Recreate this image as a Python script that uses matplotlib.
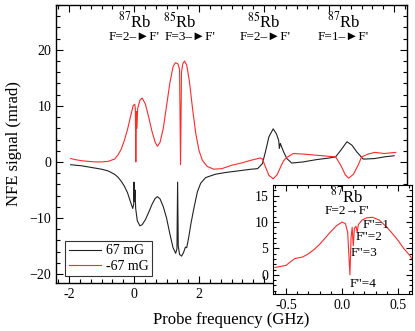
import matplotlib
matplotlib.use("Agg")
import matplotlib.pyplot as plt
from matplotlib.ticker import MultipleLocator, FixedLocator, FuncFormatter

plt.rcParams['font.family'] = ['Liberation Serif', 'DejaVu Serif']
plt.rcParams['mathtext.fontset'] = 'stix'

# ---- data ----
red_x = [-1.95, -1.8, -1.6, -1.4, -1.2, -1.0, -0.8, -0.6, -0.5, -0.4, -0.3, -0.2, -0.1, -0.03,
         0.02, 0.04, 0.055, 0.07, 0.09, 0.11, 0.18, 0.25, 0.35, 0.45, 0.55, 0.65, 0.72, 0.8, 0.9,
         1.0, 1.1, 1.2, 1.27, 1.35, 1.40, 1.43, 1.46, 1.50, 1.55, 1.62, 1.7, 1.8, 1.9, 2.0, 2.1,
         2.25, 2.45, 2.7, 3.0, 3.3, 3.6, 3.88, 3.95, 4.05, 4.15, 4.28, 4.4, 4.5, 4.6, 4.7, 4.9,
         5.2, 5.6, 6.0, 6.2, 6.35, 6.5, 6.6, 6.75, 6.9, 7.0, 7.2, 7.4, 7.7, 8.05]
red_y = [0.6, 0.4, 0.2, 0.1, 0.0, 0.0, 0.1, 0.5, 1.2, 2.2, 3.8, 5.8, 8.3, 10.0,
         10.3, 9.5, 0.0, 9.0, 6.0, 9.5, 11.0, 11.4, 10.3, 8.0, 5.5, 3.5, 2.8, 3.5, 6.0,
         10.0, 14.0, 17.0, 17.7, 17.5, 16.5, -0.5, 16.0, 17.5, 18.0, 17.3, 14.5, 9.5, 5.0, 2.0, 0.3,
         -0.8, -1.3, -1.2, -0.6, -0.2, 0.3, 0.7, 0.5, -1.0, -2.4, -3.0, -2.3, -1.0, 0.2, 0.8, 1.5,
         1.4, 1.2, 1.0, 0.9, -0.5, -2.3, -2.9, -2.2, -0.5, 0.9, 1.4, 1.7, 1.5, 1.7]

blk_x = [-1.95, -1.6, -1.3, -1.0, -0.8, -0.6, -0.5, -0.4, -0.3, -0.2, -0.1, -0.04, -0.01, 0.0,
         0.01, 0.03, 0.05, 0.1, 0.18, 0.25, 0.35, 0.45, 0.55, 0.65, 0.72, 0.8, 0.9, 1.0, 1.1,
         1.2, 1.28, 1.32, 1.34, 1.36, 1.40, 1.46, 1.52, 1.58, 1.62, 1.68, 1.75, 1.85, 1.95, 2.05,
         2.2, 2.5, 2.8, 3.2, 3.6, 3.8, 3.95, 4.05, 4.15, 4.28, 4.38, 4.45, 4.47, 4.5, 4.6, 4.7,
         4.85, 5.2, 5.6, 6.0, 6.2, 6.35, 6.55, 6.7, 6.85, 7.05, 7.4, 7.7, 8.0]
blk_y = [-0.5, -0.7, -1.0, -1.3, -1.6, -2.2, -2.7, -3.4, -4.3, -5.5, -7.3, -8.3, -7.5, -3.6,
         -7.0, -5.0, -8.3, -10.5, -11.4, -11.2, -10.3, -9.0, -7.6, -6.5, -6.2, -6.6, -8.0, -10.0, -12.8,
         -15.3, -16.3, -15.5, -3.6, -15.0, -16.5, -16.8, -16.2, -15.2, -15.3, -13.5, -11.0, -8.0, -5.3, -3.8,
         -2.8, -2.2, -1.9, -1.6, -1.3, -1.2, -0.3, 2.0, 4.5, 5.9, 5.0, 3.8, 2.4, 3.3, 1.8, 0.6,
         -0.2, 0.0, 0.4, 0.7, 0.9, 2.0, 3.6, 3.0, 1.8, 0.5, 0.6, 0.9, 1.1]

ins_x = [-0.6, -0.55, -0.5, -0.46, -0.42, -0.35, -0.3, -0.25, -0.2, -0.15, -0.1, -0.05, 0.0,
         0.03, 0.05, 0.07, 0.08, 0.09, 0.10, 0.11, 0.125, 0.135, 0.145, 0.18, 0.22, 0.27, 0.33,
         0.4, 0.45, 0.5, 0.55, 0.6, 0.625]
ins_y = [1.4, 1.6, 1.8, 2.5, 3.1, 3.4, 4.0, 4.8, 5.8, 7.0, 8.2, 9.3, 10.0,
         9.7, 8.0, 0.0, 7.0, 9.0, 5.5, 8.8, 9.2, 8.0, 9.5, 10.4, 10.8, 10.9, 10.4,
         9.0, 7.8, 6.5, 5.0, 3.8, 3.0]

series_labels = ["67 mG", "-67 mG"]
main_xticks = [-2, 0, 2, 4, 6, 8]
main_xticklabels = ["-2", "0", "2", "", "", ""]
iso_labels = [(0.03, r"$^{87}$Rb"), (1.4, r"$^{85}$Rb"), (4.0, r"$^{85}$Rb"), (6.45, r"$^{87}$Rb")]
trans_labels = [(0.0, "F=2\u2013\u25baF'"), (1.72, "F=3\u2013\u25baF'"),
                (4.03, "F=2\u2013\u25baF'"), (6.42, "F=1\u2013\u25baF'")]
ins_labels = [(0.18, 9.5, 'F"=1'), (0.125, 7.2, 'F"=2'), (0.08, 4.2, 'F"=3'), (0.07, -1.7, 'F"=4')]

RED = '#ff2a2a'
BLK = '#222222'

fig = plt.figure(figsize=(4.15, 3.31), dpi=100)
ax = fig.add_axes([0.135, 0.145, 0.846, 0.840])
ax.plot(blk_x, blk_y, color=BLK, lw=0.8, label=series_labels[0])
ax.plot(red_x, red_y, color=RED, lw=0.8, label=series_labels[1])
ax.set_xlim(-2.4, 8.4)
ax.set_ylim(-21.6, 28.0)
ax.xaxis.set_major_locator(FixedLocator(main_xticks))
ax.set_xticklabels(main_xticklabels)
ax.xaxis.set_minor_locator(MultipleLocator(2/6))
ax.yaxis.set_major_locator(MultipleLocator(10))
ax.yaxis.set_minor_locator(MultipleLocator(2))
ax.tick_params(which='both', direction='in', top=True, right=True, labelsize=10, width=0.8)
ax.tick_params(which='major', length=5)
ax.tick_params(which='minor', length=3)
for s in ax.spines.values():
    s.set_linewidth(1.0)
ax.set_xlabel("Probe frequency (GHz)", fontsize=12, labelpad=8)
ax.set_ylabel("NFE signal (mrad)", fontsize=12, labelpad=5)
for xp, t in iso_labels:
    ax.text(xp, 25.0, t, ha='center', va='center', fontsize=12)
for xp, t in trans_labels:
    ax.text(xp, 22.3, t, ha='center', va='center', fontsize=9.5)
leg = ax.legend(loc='lower left', bbox_to_anchor=(0.026, 0.025), fontsize=10, frameon=True,
                fancybox=False, edgecolor='black', handlelength=2.3, borderpad=0.25,
                labelspacing=0.15, handletextpad=0.4, borderaxespad=0.0)
leg.get_frame().set_linewidth(0.8)

ins = fig.add_axes([0.658, 0.112, 0.335, 0.329])
ins.plot(ins_x, ins_y, color=RED, lw=0.8)
ins.set_xlim(-0.616, 0.625)
ins.set_ylim(-3.6, 17.0)
ins.xaxis.set_major_locator(MultipleLocator(0.5))
ins.xaxis.set_minor_locator(MultipleLocator(0.1))
ins.yaxis.set_major_locator(MultipleLocator(5))
ins.yaxis.set_minor_locator(MultipleLocator(1))
ins.xaxis.set_major_formatter(FuncFormatter(lambda v, p: f"{v:.1f}"))
ins.tick_params(which='both', direction='in', top=True, right=True, labelsize=10, width=0.8)
ins.tick_params(which='major', length=4)
ins.tick_params(which='minor', length=2)
ins.text(0.045, 14.9, r"$^{87}$Rb", ha='center', va='center', fontsize=12)
ins.text(0.045, 12.1, "F=2\u2192F'", ha='center', va='center', fontsize=9.5)
for xp, yp, t in ins_labels:
    ins.text(xp, yp, t, ha='left', va='center', fontsize=9.5)

fig.savefig("out.png", dpi=100)
